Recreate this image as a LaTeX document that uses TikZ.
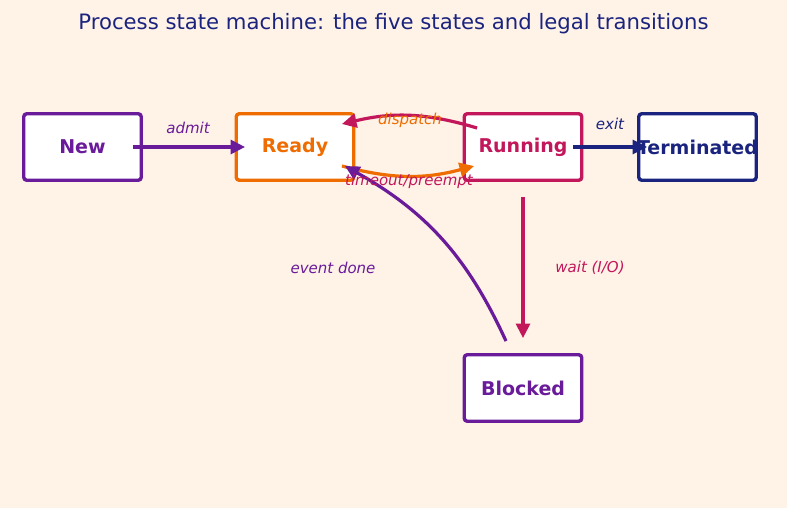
\documentclass[tikz,border=0pt]{standalone}
\usepackage{fontspec}
\setmainfont{DejaVu Sans}
\usepackage{tikz}
\usetikzlibrary{arrows.meta, positioning}
\definecolor{bgpeach}{RGB}{255,242,231}
\definecolor{newc}{RGB}{106,27,154}
\definecolor{readyc}{RGB}{239,108,0}
\definecolor{runc}{RGB}{194,24,91}
\definecolor{termc}{RGB}{26,35,126}

\tikzset{
  statebox/.style={draw, line width=3.4pt, rounded corners=3pt, fill=white,
    minimum width=117.5pt, minimum height=66.5pt, inner sep=0pt,
    font=\fontsize{19}{23}\selectfont\bfseries},
  trans/.style={line width=3.2pt, -{Triangle[length=14.5pt,width=14pt]}},
  tlabel/.style={font=\fontsize{15}{18}\selectfont\itshape}
}

\begin{document}
\begin{tikzpicture}[x=1pt, y=1pt]
  \fill[bgpeach] (0,0) rectangle (787,-508);
  \useasboundingbox (0,0) rectangle (787,-508);

  \node[text=termc, font=\fontsize{21.2}{25}\selectfont] (title) at (393.5,-23.5) {Process state machine: the five states and legal transitions};

  \node[statebox, draw=newc, text=newc] (new) at (82.5,-147) {New};
  \node[statebox, draw=readyc, text=readyc] (ready) at (295,-147) {Ready};
  \node[statebox, draw=runc, text=runc] (running) at (523,-147) {Running};
  \node[statebox, draw=termc, text=termc] (term) at (697.5,-147) {\makebox[0pt]{Terminated}};
  \node[statebox, draw=newc, text=newc] (blocked) at (523,-388) {Blocked};

  \draw[trans, newc] ([xshift=-10pt]new.east) -- ([xshift=10.5pt]ready.west);
  \draw[trans, runc] ([xshift=14.5pt,yshift=19pt]running.west) to[bend right=15] ([xshift=-13.5pt,yshift=23pt]ready.east);
  \draw[trans, readyc] ([xshift=-13.5pt,yshift=-19pt]ready.east) to[bend right=15] ([xshift=11.5pt,yshift=-19pt]running.west);
  \draw[trans, termc] ([xshift=-10.5pt]running.east) -- ([xshift=10pt]term.west);
  \draw[trans, runc] ([yshift=-15pt]running.south) -- ([yshift=15pt]blocked.north);
  \draw[trans, newc] ([xshift=-17pt,yshift=12pt]blocked.north) to[bend right=18] ([xshift=-10.5pt,yshift=-19pt]ready.east);

  \node[tlabel, text=newc] (admitlbl) at (188,-128) {admit};
  \node[tlabel, text=readyc] (displbl) at (410,-120) {dispatch};
  \node[tlabel, text=runc] (prelbl) at (409,-181) {timeout/preempt};
  \node[tlabel, text=termc] (exitlbl) at (610,-124) {exit};
  \node[tlabel, text=runc] (waitlbl) at (590,-268) {wait (I/O)};
  \node[tlabel, text=newc] (donelbl) at (333,-268) {event done};
\end{tikzpicture}
\end{document}
